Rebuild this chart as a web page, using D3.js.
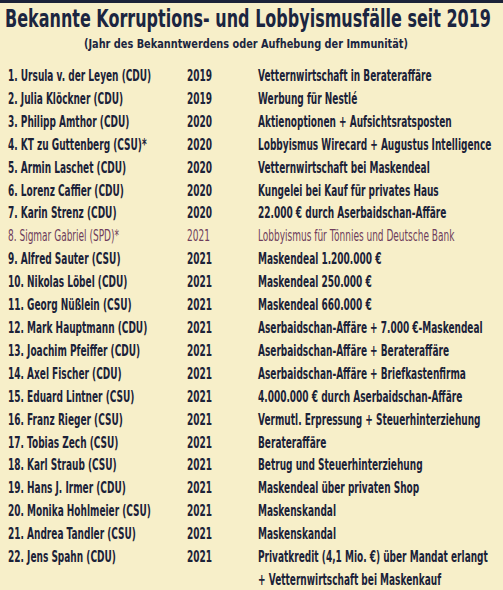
<!DOCTYPE html><html><head><meta charset="utf-8"><script src="https://cdn.jsdelivr.net/npm/d3@7"></script>
<style>body{margin:0;background:#f7efc9}</style></head><body><script>
const names=["1. Ursula v. der Leyen (CDU)","2. Julia Klöckner (CDU)","3. Philipp Amthor (CDU)","4. KT zu Guttenberg (CSU)*","5. Armin Laschet (CDU)","6. Lorenz Caffier (CDU)","7. Karin Strenz (CDU)","8. Sigmar Gabriel (SPD)*","9. Alfred Sauter (CSU)","10. Nikolas Löbel (CDU)","11. Georg Nüßlein (CSU)","12. Mark Hauptmann (CDU)","13. Joachim Pfeiffer (CDU)","14. Axel Fischer (CDU)","15. Eduard Lintner (CSU)","16. Franz Rieger (CSU)","17. Tobias Zech (CSU)","18. Karl Straub (CSU)","19. Hans J. Irmer (CDU)","20. Monika Hohlmeier (CSU)","21. Andrea Tandler (CSU)","22. Jens Spahn (CDU)"];
const years=["2019","2019","2020","2020","2020","2020","2020","2021","2021","2021","2021","2021","2021","2021","2021","2021","2021","2021","2021","2021","2021","2021"];
const cases=["Vetternwirtschaft in Berateraffäre","Werbung für Nestlé","Aktienoptionen + Aufsichtsratsposten","Lobbyismus Wirecard + Augustus Intelligence","Vetternwirtschaft bei Maskendeal","Kungelei bei Kauf für privates Haus","22.000 € durch Aserbaidschan-Affäre","Lobbyismus für Tönnies und Deutsche Bank","Maskendeal 1.200.000 €","Maskendeal 250.000 €","Maskendeal 660.000 €","Aserbaidschan-Affäre + 7.000 €-Maskendeal","Aserbaidschan-Affäre + Berateraffäre","Aserbaidschan-Affäre + Briefkastenfirma","4.000.000 € durch Aserbaidschan-Affäre","Vermutl. Erpressung + Steuerhinterziehung","Berateraffäre","Betrug und Steuerhinterziehung","Maskendeal über privaten Shop","Maskenskandal","Maskenskandal","Privatkredit (4,1 Mio. €) über Mandat erlangt"];
const extra="+ Vetternwirtschaft bei Maskenkauf";
const W=503,H=590;
const svg=d3.select("body").append("svg").attr("width",W).attr("height",H);
svg.append("rect").attr("width",W).attr("height",H).attr("fill","#f7efc9");
svg.append("rect").attr("width",W).attr("height",3).attr("fill","#1b2238");
const ff="'DejaVu Sans'";
function squeeze(sel,f){sel.each(function(){const n=this.getComputedTextLength();this.setAttribute("textLength",n*f);this.setAttribute("lengthAdjust","spacingAndGlyphs");});}
function fit(sel,w){sel.attr("textLength",w).attr("lengthAdjust","spacingAndGlyphs");}
fit(svg.append("text").attr("x",5).attr("y",27).attr("font-family",ff).attr("font-weight","bold").attr("font-size",25).attr("fill","#1b2540").text("Bekannte Korruptions- und Lobbyismusfälle seit 2019"),486);
fit(svg.append("text").attr("x",84).attr("y",48).attr("font-family",ff).attr("font-weight","bold").attr("font-size",13).attr("fill","#1b2540").text("(Jahr des Bekanntwerdens oder Aufhebung der Immunität)"),324);
const y=d3.scaleBand().domain(d3.range(names.length)).range([64,568]);
const rows=svg.selectAll("g.r").data(names).join("g").attr("transform",(d,i)=>`translate(0,${y(i)+y.bandwidth()/2+5.5})`)
 .attr("font-family",ff).attr("font-size",15.5).attr("fill",(d,i)=>i==7?"#6e3d5c":"#1b2238").attr("font-weight",(d,i)=>i==7?"normal":"bold");
const f=0.58;
squeeze(rows.append("text").attr("x",8).text(d=>d),f);
squeeze(rows.append("text").attr("x",187).text((d,i)=>years[i]),f);
squeeze(rows.append("text").attr("x",258).text((d,i)=>cases[i]),f);
squeeze(svg.append("text").attr("x",258).attr("y",y(21)+y.bandwidth()*1.5+5.5).attr("font-family",ff).attr("font-weight","bold").attr("font-size",15.5).attr("fill","#1b2238").text(extra),f);
</script></body></html>
